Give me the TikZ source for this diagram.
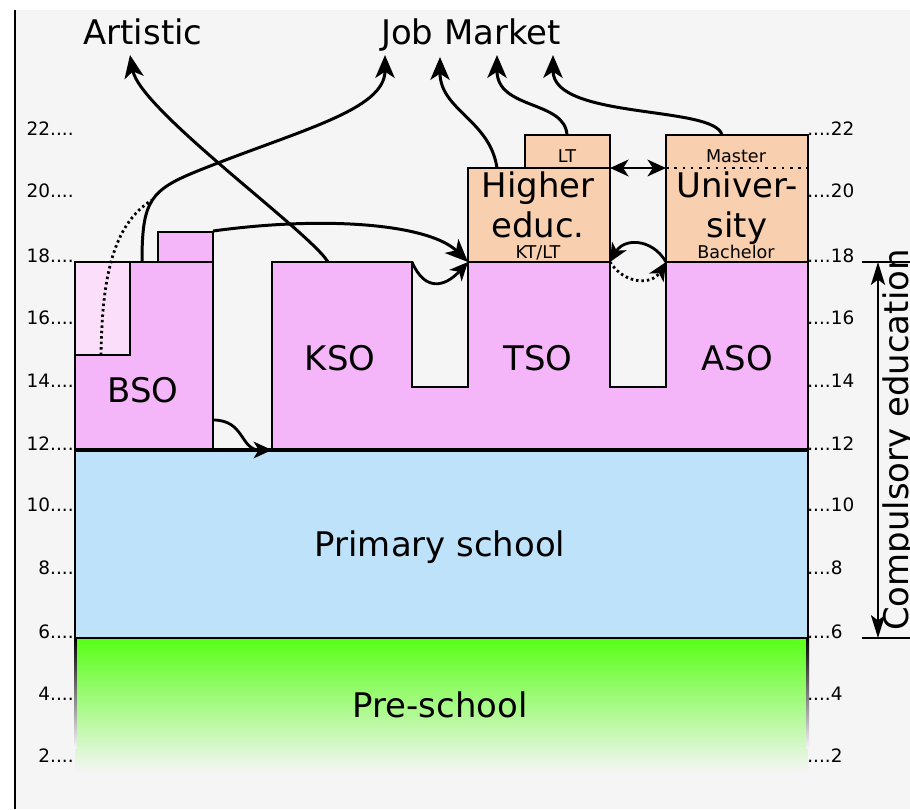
\documentclass[tikz,border=0pt]{standalone}
\usepackage{fontspec}
\setmainfont{DejaVu Sans}
\usetikzlibrary{arrows.meta}
\definecolor{pinkso}{RGB}{245,182,249}
\definecolor{lightso}{RGB}{250,222,250}
\definecolor{peach}{RGB}{249,208,175}
\definecolor{primblue}{RGB}{190,226,250}
\definecolor{kidgreen}{RGB}{88,255,22}
\definecolor{paper}{RGB}{245,245,245}

\begin{document}
\begin{tikzpicture}[x=0.02cm,y=-0.02cm,
    every node/.style={inner sep=0pt},
    big/.style={font=\fontsize{19.3}{23}\selectfont},
    small/.style={font=\fontsize{10}{12}\selectfont},
    age/.style={font=\fontsize{10.5}{12}\selectfont},
    box/.style={draw,line width=1.4pt},
    dots/.style={dash pattern=on 1.4pt off 1.7pt},
    route/.style={line width=1.7pt,-{Stealth[length=13pt,width=11pt,inset=3.5pt]}},
    hop/.style={line width=1.6pt,-{Stealth[length=10.5pt,width=9.5pt,inset=3pt]}},
    twoway/.style={line width=1.6pt,{Stealth[length=10.5pt,width=9.5pt,inset=3pt]}-{Stealth[length=10.5pt,width=9.5pt,inset=3pt]}}]
  \useasboundingbox (0,0) rectangle (910,809);
  \fill[white] (0,0) rectangle (910,809);
  \fill[paper] (15,10) rectangle (910,809);
  \draw[line width=1.7pt] (15,10) -- (15,809);

  \shade[top color=kidgreen, middle color=kidgreen!70!white, bottom color=paper] (75,638) rectangle (808,772);
  \shade[top color=black, bottom color=paper] (74,638) rectangle (76.5,748);
  \shade[top color=black, bottom color=paper] (806.5,638) rectangle (809,748);
  \draw[box,fill=primblue] (75,450) rectangle (808,638);

  \draw[box,fill=pinkso] (75,262) rectangle (213,450);
  \draw[box,fill=lightso] (75,262) rectangle (130,355);
  \draw[box,fill=pinkso] (158,232) rectangle (213,262);
  \draw[box,fill=pinkso] (272,450) -- (272,262) -- (412,262) -- (412,387) -- (468,387) -- (468,262)
    -- (610,262) -- (610,387) -- (666,387) -- (666,262) -- (808,262) -- (808,450) -- cycle;
  \draw[line width=1.8pt] (75,450) -- (808,450);

  \draw[box,fill=peach] (468,168) rectangle (610,262);
  \draw[box,fill=peach] (525,135) rectangle (610,168);
  \draw[box,fill=peach] (666,135) rectangle (808,262);
  \draw[line width=1.5pt,dash pattern=on 1.5pt off 3.2pt] (666,168) -- (808,168);

  \foreach \a/\y in {22/135,20/197,18/262,16/324,14/387,12/450,10/511,8/574,6/638,4/700,2/762} {
    \node[age,anchor=base east] (l\a) at (74,\y) {\a....};
    \node[age,anchor=base west] (r\a) at (807,\y) {....\a};
  }

  \node[big,anchor=base] (artistic) at (143,44) {Artistic};
  \node[big,anchor=base] (job) at (471,44) {Job Market};
  \node[big,anchor=base] (bso) at (143,402) {BSO};
  \node[big,anchor=base] (kso) at (340,370) {KSO};
  \node[big,anchor=base] (tso) at (538,370) {TSO};
  \node[big,anchor=base] (aso) at (737,370) {ASO};
  \node[big,anchor=base] (higher) at (538,197) {Higher};
  \node[big,anchor=base] (educ) at (538,237) {educ.};
  \node[big,anchor=base] (univer) at (737,197) {Univer-};
  \node[big,anchor=base] (sity) at (737,237) {sity};
  \node[small,anchor=base] (lt) at (567,162) {LT};
  \node[small,anchor=base] (ktlt) at (538,258) {KT/LT};
  \node[small,anchor=base] (master) at (736,162) {Master};
  \node[small,anchor=base] (bachelor) at (736,258) {Bachelor};
  \node[big,anchor=base] (primary) at (440,556) {Primary school};
  \node[big,anchor=base] (preschool) at (440,717) {Pre-school};
  \node[big,rotate=90,anchor=base] (compulsory) at (908,440) {Compulsory education};

  \coordinate (bsotop) at (142,262);
  \coordinate (bsolow) at (101,355);
  \coordinate (bsoside) at (213,420);
  \coordinate (bsobox) at (213,231);
  \coordinate (ksotop) at (328,262);
  \coordinate (ksoedge) at (412,262);
  \coordinate (ksofoot) at (272,450);
  \coordinate (heleft) at (468,262);
  \coordinate (hetop) at (497,168);
  \coordinate (heright) at (610,168);
  \coordinate (tsoright) at (610,262);
  \coordinate (lttop) at (567,135);
  \coordinate (unitop) at (722,135);
  \coordinate (unileft) at (666,168);
  \coordinate (asoleft) at (666,262);
  \coordinate (arttip) at (130,55);
  \coordinate (job1) at (385,55);
  \coordinate (job2) at (440,57);
  \coordinate (job3) at (497,55);
  \coordinate (job4) at (553,55);
  \coordinate (c18) at (878,262);
  \coordinate (c6) at (878,638);

  \draw[route] (ksotop) .. controls (310,232) and (140,110) .. (arttip);
  \draw[route] (bsotop) .. controls (142,200) and (150,190) .. (200,170) .. controls (300,130) and (385,110) .. (job1);
  \draw[line width=1.6pt,dots] (bsolow) .. controls (102,280) and (112,225) .. (152,200);
  \draw[route] (bsobox) .. controls (330,215) and (430,225) .. (heleft);
  \draw[hop] (ksoedge) .. controls (425,292) and (445,287) .. (heleft);
  \draw[route] (hetop) .. controls (490,120) and (440,110) .. (job2);
  \draw[route] (lttop) .. controls (565,100) and (497,110) .. (job3);
  \draw[route] (unitop) .. controls (715,105) and (553,120) .. (job4);
  \draw[twoway] (heright) -- (unileft);
  \draw[hop] (asoleft) .. controls (652,238) and (624,238) .. (tsoright);
  \draw[hop,dots] (tsoright) .. controls (625,285) and (652,285) .. (asoleft);
  \draw[hop] (bsoside) .. controls (245,420) and (240,450) .. (ksofoot);

  \draw[line width=1.4pt] (862,262) -- (910,262);
  \draw[line width=1.4pt] (862,638) -- (910,638);
  \draw[line width=1.4pt,{Stealth[length=13pt,width=8pt,inset=3pt]}-{Stealth[length=13pt,width=8pt,inset=3pt]}] (c18) -- (c6);
\end{tikzpicture}
\end{document}
